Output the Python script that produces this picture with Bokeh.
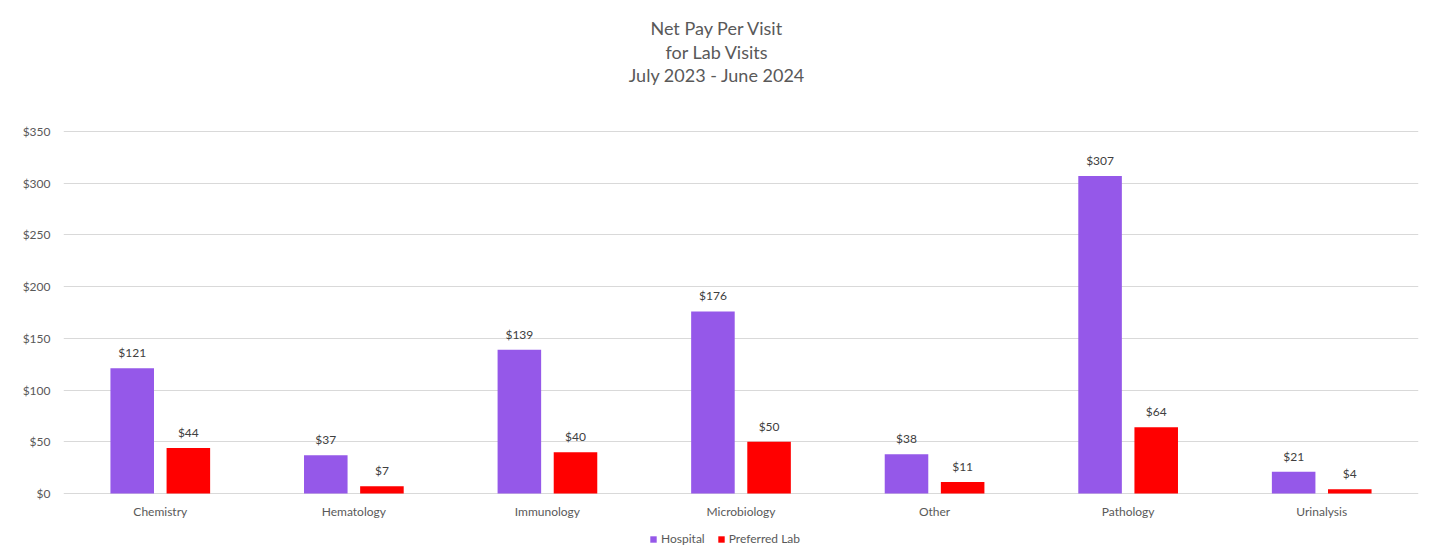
from bokeh.plotting import figure
from bokeh.models import ColumnDataSource, FactorRange, Range1d, Label, Legend, LegendItem, FixedTicker, NumeralTickFormatter
from bokeh.transform import dodge
from bokeh.embed import file_html
from bokeh.resources import INLINE
from bokeh.core.properties import value

categories = ["Chemistry", "Hematology", "Immunology", "Microbiology", "Other", "Pathology", "Urinalysis"]
hospital = [121, 37, 139, 176, 38, 307, 21]
preferred_lab = [44, 7, 40, 50, 11, 64, 4]
y_ticks = [0, 50, 100, 150, 200, 250, 300, 350]
title_lines = ["Net Pay Per Visit", "for Lab Visits", "July 2023 - June 2024"]
series_names = ["Hospital", "Preferred Lab"]

FONT = "Lato"
TXT = "#595959"

W, H = 1435, 558
TOP_PX, BOTTOM_PX = 131, 65          # space above $350 gridline and below $0 gridline
PX_PER_UNIT = (H - TOP_PX - BOTTOM_PX) / y_ticks[-1]

src = ColumnDataSource(dict(
    cat=categories,
    hospital=hospital,
    pref=preferred_lab,
    zero=[0] * len(categories),
    hospital_lbl=["$%d" % v for v in hospital],
    pref_lbl=["$%d" % v for v in preferred_lab],
))

p = figure(width=W, height=H, x_range=FactorRange(*categories),
           y_range=Range1d(-BOTTOM_PX / PX_PER_UNIT, y_ticks[-1] + TOP_PX / PX_PER_UNIT),
           output_backend="svg", toolbar_location=None, title=None, x_axis_location=None,
           min_border_left=63, min_border_right=17, min_border_top=0, min_border_bottom=0)

p.outline_line_color = None
p.background_fill_color = "white"
p.border_fill_color = "white"

# titles
for line, dy in zip(title_lines, [104, 80, 57]):
    p.add_layout(Label(x=3.5, y=y_ticks[-1], x_offset=-24, y_offset=dy, text=line,
                       text_align="center", text_baseline="middle", text_font=FONT,
                       text_font_size="18px", text_color=TXT))

bw = 0.225
off = 0.145
r1 = p.vbar(x=dodge("cat", -off, range=p.x_range), top="hospital", width=bw, source=src,
            color="#9558E9", line_color=None)
r2 = p.vbar(x=dodge("cat", off, range=p.x_range), top="pref", width=bw, source=src,
            color="#FF0000", line_color=None)

p.text(x=dodge("cat", -off, range=p.x_range), y="hospital", text="hospital_lbl", source=src,
       text_align="center", text_baseline="bottom", y_offset=-8,
       text_font=value(FONT), text_font_size="12px", text_color="#404040")
p.text(x=dodge("cat", off, range=p.x_range), y="pref", text="pref_lbl", source=src,
       text_align="center", text_baseline="bottom", y_offset=-8,
       text_font=value(FONT), text_font_size="12px", text_color="#404040")

# category labels under the $0 line
p.text(x="cat", y="zero", text="cat", source=src, text_align="center", text_baseline="top",
       y_offset=10, text_font=value(FONT), text_font_size="12px", text_color=TXT)

p.yaxis.ticker = FixedTicker(ticks=y_ticks)
p.yaxis.formatter = NumeralTickFormatter(format="$0")
p.yaxis.axis_line_color = None
p.yaxis.major_tick_line_color = None
p.yaxis.minor_tick_line_color = None
p.yaxis.major_label_text_font = FONT
p.yaxis.major_label_text_font_size = "12px"
p.yaxis.major_label_text_color = TXT
p.yaxis.major_label_standoff = 7

p.xgrid.grid_line_color = None
p.ygrid.ticker = FixedTicker(ticks=y_ticks)
p.ygrid.grid_line_color = "#d9d9d9"
p.ygrid.grid_line_width = 1

legend = Legend(items=[LegendItem(label=series_names[0], renderers=[r1]),
                       LegendItem(label=series_names[1], renderers=[r2])],
                orientation="horizontal", location=(586, 12),
                label_text_font=FONT, label_text_font_size="12px", label_text_color=TXT,
                glyph_width=8, glyph_height=8, spacing=12, label_standoff=4,
                border_line_color=None, background_fill_alpha=0, padding=2, margin=0)
p.add_layout(legend, "center")

open("out.html", "w").write(file_html(p, INLINE))
